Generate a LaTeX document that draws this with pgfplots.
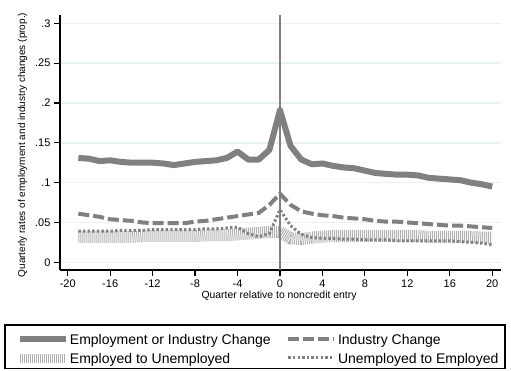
\documentclass[border=0pt]{standalone}
\usepackage{fontspec}
\setmainfont{Liberation Sans}
\usepackage{pgfplots}
\pgfplotsset{compat=1.18}
\usepackage{pgfplotstable}

\definecolor{lineGray}{RGB}{128,128,128}
\definecolor{hatchGray}{RGB}{178,178,178}
\definecolor{gridBlue}{RGB}{232,241,243}

% legend samples: 46pt line, cell padded to a fixed width
\pgfplotsset{
  wide sample legend/.style={legend image code/.code={%
    \path[draw=none,fill=none] (0pt,0pt) -- (49.6pt,0pt);
    \draw[##1] (0pt,5.5pt) -- (46pt,5.5pt);}},
  hatch sample legend/.style={legend image code/.code={%
    \path[draw=none,fill=none] (0pt,0pt) -- (49.6pt,0pt);
    \draw[##1, line width=8.5pt] (0pt,5pt) -- (46pt,5pt);}},
}

% Quarterly rates by quarter relative to noncredit entry
% main: employment or industry change, ind: industry change,
% emun: employed to unemployed, unem: unemployed to employed
\pgfplotstableread{
q   main  ind   emun  unem
-19 .131  .061  .032  .039
-18 .130  .059  .032  .039
-17 .127  .057  .032  .039
-16 .128  .054  .032  .039
-15 .126  .053  .032  .040
-14 .125  .052  .032  .040
-13 .125  .050  .033  .040
-12 .125  .049  .033  .041
-11 .124  .049  .033  .041
-10 .122  .049  .033  .041
-9  .124  .049  .033  .041
-8  .126  .051  .033  .041
-7  .127  .052  .034  .042
-6  .128  .054  .034  .042
-5  .131  .056  .034  .043
-4  .139  .058  .035  .044
-3  .129  .060  .036  .036
-2  .129  .062  .037  .032
-1  .141  .072  .038  .036
0   .191  .086  .038  .066
1   .146  .072  .030  .046
2   .129  .064  .029  .035
3   .123  .061  .031  .031
4   .124  .059  .032  .030
5   .121  .058  .033  .030
6   .119  .056  .033  .029
7   .118  .055  .033  .029
8   .115  .054  .033  .028
9   .112  .052  .033  .028
10  .111  .051  .033  .028
11  .110  .051  .033  .027
12  .110  .050  .033  .027
13  .109  .049  .033  .027
14  .106  .048  .032  .027
15  .105  .047  .032  .027
16  .104  .046  .032  .027
17  .103  .046  .032  .026
18  .100  .045  .032  .025
19  .098  .044  .031  .024
20  .095  .043  .031  .022
}\ratetable

\begin{document}
\begin{tikzpicture}
\useasboundingbox (-60pt,-101pt) rectangle (451pt,270pt);
\begin{axis}[
  scale only axis,
  width=440.7pt, height=255pt,
  xmin=-20.73, xmax=20.8,
  ymin=-0.0097, ymax=0.3104,
  axis x line*=bottom, axis y line*=left,
  axis line style={line width=1.6pt, black, -},
  tick align=outside,
  major tick length=6pt,
  every tick/.style={black, line width=1.2pt},
  xtick={-20,-16,...,20},
  xticklabels={{-20},{-16},{-12},{-8},{-4},{0},{4},{8},{12},{16},{20}},
  ytick={0,0.05,0.1,0.15,0.2,0.25,0.3},
  yticklabels={0,.05,.1,.15,.2,.25,.3},
  ticklabel style={font=\fontsize{11}{13}\selectfont},
  ymajorgrids,
  grid style={gridBlue, line width=1.5pt},
  xlabel={Quarter relative to noncredit entry},
  xlabel style={font=\fontsize{10.4}{12}\selectfont, at={(axis description cs:0.497,-0.102)}, anchor=center},
  ylabel={Quarterly rates of employment and industry changes (prop.)},
  ylabel style={font=\fontsize{10}{12}\selectfont, at={(axis description cs:-0.0851,0.49)}, anchor=center},
  legend columns=2,
  wide sample legend,
  legend style={
    at={(axis description cs:0.4425,-0.3012)}, anchor=center,
    draw=black, line width=1.3pt,
    inner xsep=10.5pt, inner ysep=4.7pt,
    column sep=0pt, row sep=4.4pt,
    font=\fontsize{14}{16}\selectfont,
    nodes={inner sep=0pt, text height=14.4pt, text depth=0.6pt},
    cells={anchor=base west},
  },
]
\addplot[lineGray, line width=6pt, line join=round] table[x=q, y=main] {\ratetable};
\addlegendentry{\makebox[216.5pt][l]{Employment or Industry Change}}
\addplot[lineGray, line width=4pt, dash pattern=on 11pt off 4pt] table[x=q, y=ind] {\ratetable};
\addlegendentry{\makebox[156.5pt][l]{Industry Change}}
\addplot[hatchGray, line width=12pt, dash pattern=on 1pt off 1pt, hatch sample legend]
  table[x=q, y=emun] {\ratetable};
\addlegendentry{\makebox[216.5pt][l]{Employed to Unemployed}}
\addplot[lineGray, line width=3pt, dash pattern=on 2.4pt off 2.2pt] table[x=q, y=unem] {\ratetable};
\addlegendentry{\makebox[156.5pt][l]{Unemployed to Employed}}
% entry quarter marker
\addplot[lineGray, line width=2.4pt, forget plot] coordinates {(0,-0.0097) (0,0.3104)};
\end{axis}
\end{tikzpicture}
\end{document}
